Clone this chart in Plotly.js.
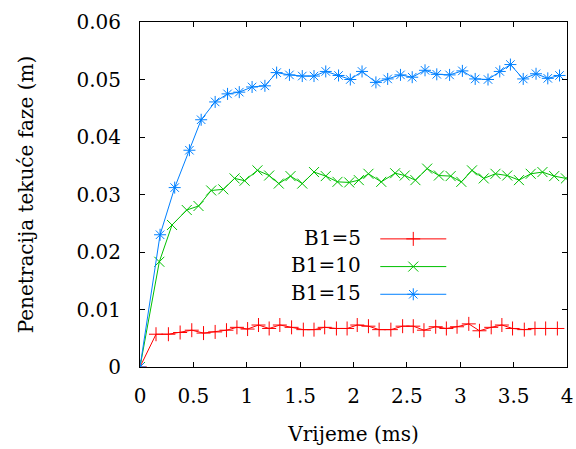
<!DOCTYPE html>
<html>
<head>
<meta charset="utf-8">
<script src="https://cdn.plot.ly/plotly-3.0.1.min.js"></script>
<style>html,body{margin:0;padding:0;background:#fff;}#chart{width:576px;height:449px;}</style>
</head>
<body>
<div id="chart"></div>
<script>
const seriesNames = ["B1=5", "B1=10", "B1=15"];

const timeB5 = [0, 0.15, 0.266, 0.376, 0.485, 0.595, 0.704, 0.81, 0.908, 1.008, 1.11, 1.21, 1.31, 1.42, 1.53, 1.63, 1.73, 1.84, 1.94,
  2.035, 2.14, 2.24, 2.35, 2.46, 2.56, 2.66, 2.77, 2.87, 2.97, 3.08, 3.18, 3.29, 3.39, 3.49, 3.60, 3.70, 3.80, 3.91];
const penB5 = [0, 0.0057, 0.0057, 0.0060, 0.0064, 0.0059, 0.0061, 0.0064, 0.0069, 0.0066, 0.0073, 0.0067, 0.0073, 0.0069, 0.0065, 0.0065, 0.0069, 0.0067, 0.0067,
  0.0073, 0.0071, 0.0065, 0.0065, 0.0071, 0.0071, 0.0064, 0.0070, 0.0067, 0.0070, 0.0075, 0.0063, 0.0069, 0.0073, 0.0067, 0.0065, 0.0067, 0.0067, 0.0067];

const timeB10 = [0, 0.181, 0.30, 0.438, 0.548, 0.667, 0.78, 0.886, 0.98, 1.10, 1.21, 1.30, 1.41, 1.52, 1.63, 1.74, 1.85, 1.96,
  2.05, 2.14, 2.26, 2.39, 2.48, 2.58, 2.69, 2.80, 2.91, 3.01, 3.11, 3.22, 3.33, 3.44, 3.55, 3.66, 3.77, 3.88, 3.99];
const penB10 = [0, 0.0183, 0.0247, 0.0273, 0.0280, 0.0307, 0.0309, 0.0328, 0.0324, 0.0342, 0.0333, 0.0319, 0.0332, 0.0319, 0.0339, 0.0332, 0.0322, 0.0321,
  0.0325, 0.0336, 0.0322, 0.0337, 0.0333, 0.0325, 0.0345, 0.0333, 0.0332, 0.0322, 0.0342, 0.0328, 0.0336, 0.0333, 0.0325, 0.0336, 0.0339, 0.0332, 0.0328];

const timeB15 = [0, 0.188, 0.325, 0.463, 0.573, 0.704, 0.82, 0.93, 1.05, 1.17, 1.28, 1.40, 1.52, 1.63, 1.74, 1.86, 1.97,
  2.08, 2.21, 2.32, 2.44, 2.55, 2.67, 2.78, 2.90, 3.02, 3.14, 3.26, 3.37, 3.47, 3.59, 3.71, 3.82, 3.93];
const penB15 = [0, 0.0230, 0.0312, 0.0377, 0.0430, 0.0461, 0.0475, 0.0478, 0.0487, 0.0489, 0.0512, 0.0508, 0.0506, 0.0506, 0.0514, 0.0507, 0.0500,
  0.0514, 0.0495, 0.0501, 0.0508, 0.0504, 0.0516, 0.0509, 0.0508, 0.0515, 0.0501, 0.0500, 0.0514, 0.0526, 0.0501, 0.0510, 0.0502, 0.0507];

const xTickVals = [0, 0.5, 1, 1.5, 2, 2.5, 3, 3.5, 4];
const yTickVals = [0, 0.01, 0.02, 0.03, 0.04, 0.05, 0.06];

const colors = ["#ff0000", "#00c000", "#0080ff"];
const symbols = ["cross-thin-open", "x-thin-open", "asterisk-open"];
const xs = [timeB5, timeB10, timeB15];
const ys = [penB5, penB10, penB15];

const FONT = "DejaVu Serif";

const traces = xs.map((x, i) => ({
  x: x, y: ys[i], type: "scatter", mode: "lines+markers",
  name: " ",
  hovertext: seriesNames[i],
  line: {color: colors[i], width: 1},
  marker: {symbol: symbols[i], size: 10, color: colors[i], line: {color: colors[i], width: 1}}
}));

const legendRowsY = [0.375, 0.295, 0.215];
const annotations = seriesNames.map((s, i) => ({
  text: s, xref: "paper", yref: "paper", x: 0.522, y: legendRowsY[i],
  xanchor: "right", yanchor: "middle", showarrow: false,
  font: {family: FONT, size: 20, color: "#000"}
}));

const axisCommon = {
  showgrid: false, zeroline: false, showline: true, linecolor: "#000", linewidth: 1,
  mirror: "allticks", ticks: "inside", ticklen: 5, tickcolor: "#000", tickwidth: 1,
  tickfont: {family: FONT, size: 20, color: "#000"}
};

const layout = {
  width: 576, height: 449,
  margin: {l: 140, r: 9, t: 21.5, b: 82},
  paper_bgcolor: "#fff", plot_bgcolor: "#fff",
  font: {family: FONT, color: "#000"},
  showlegend: true,
  legend: {
    x: 0.551, y: 0.426, xanchor: "left", yanchor: "top",
    bgcolor: "rgba(0,0,0,0)", borderwidth: 0,
    font: {family: FONT, size: 19, color: "#000"},
    itemwidth: 66, itemsizing: "trace"
  },
  xaxis: Object.assign({}, axisCommon, {
    range: [0, 4], tickvals: xTickVals, ticklabelstandoff: 11,
    title: {text: "Vrijeme (ms)", font: {family: FONT, size: 20, color: "#000"}, standoff: 19}
  }),
  yaxis: Object.assign({}, axisCommon, {
    range: [0, 0.06], tickvals: yTickVals, ticklabelstandoff: 14,
    title: {text: "Penetracija tekuće faze (m)", font: {family: FONT, size: 20, color: "#000"}, standoff: 37}
  }),
  annotations: annotations
};

Plotly.newPlot("chart", traces, layout, {staticPlot: true, displayModeBar: false});
</script>
</body>
</html>
